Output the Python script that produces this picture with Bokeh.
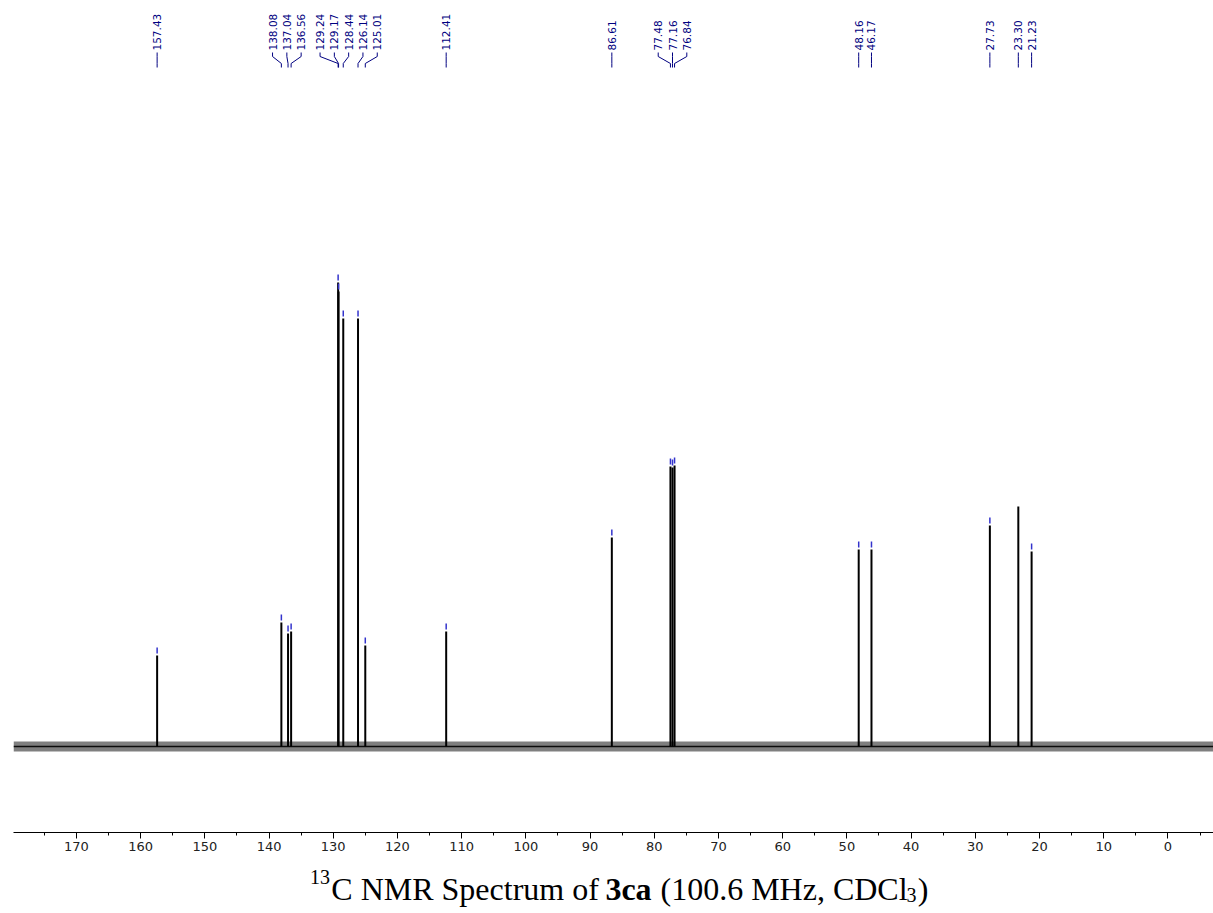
import numpy as np
from bokeh.plotting import figure
from bokeh.layouts import column
from bokeh.models import Range1d, SingleIntervalTicker, Label, ColumnDataSource, Span
from bokeh.core.properties import value
from bokeh.embed import file_html
from bokeh.resources import INLINE

# ---------------- data ----------------
shifts = [157.43, 138.08, 137.04, 136.56, 129.24, 129.17, 128.44, 126.14, 125.01,
          112.41, 86.61, 77.48, 77.16, 76.84, 48.16, 46.17, 27.73, 23.30, 21.23]
heights = [91, 124, 113, 115, 464, 455, 428, 428, 101,
           115, 209, 280, 279, 281, 197, 197, 221, 240, 195]
picked = [True] * 17 + [False, True]          # 23.30 carries no pick mark
tick_interval = 10
title_parts = [("13", "sup"), ("C NMR Spectrum of ", "normal"), ("3ca", "bold"),
               (" (100.6 MHz, CDCl", "normal"), ("3", "sub"), (")", "normal")]

# ---------------- layout ----------------
W, H = 1213, 913
TOP_H = 860
CAP_H = H - TOP_H
LEFT = 13
X0, X1 = 179.8, -7.1
Y0, Y1 = -86, 746
FW = W - LEFT
px_per_ppm = FW / (X0 - X1)

p = figure(width=W, height=TOP_H, output_backend="svg", toolbar_location=None,
           x_range=Range1d(X0, X1), y_range=Range1d(Y0, Y1),
           min_border_left=LEFT, min_border_right=0, min_border_top=0,
           min_border_bottom=TOP_H - 832)
p.yaxis.visible = False
p.xgrid.visible = False
p.ygrid.visible = False
p.outline_line_color = None
p.background_fill_color = "white"
p.border_fill_color = "white"

ax = p.xaxis[0]
ax.ticker = SingleIntervalTicker(interval=tick_interval, num_minor_ticks=2)
ax.major_tick_out = 6
ax.major_tick_in = 0
ax.minor_tick_out = 3
ax.minor_tick_in = 0
ax.axis_line_color = "black"
ax.major_tick_line_color = "black"
ax.minor_tick_line_color = "black"
ax.major_label_text_font = "DejaVu Sans"
ax.major_label_text_font_size = "13px"
ax.major_label_text_color = "#222222"
ax.major_label_standoff = 3

# noisy baseline rendered as a band
p.add_layout(Span(location=0, dimension="width", line_color="black",
                  line_alpha=0.5, line_width=10))
p.add_layout(Span(location=0, dimension="width", line_color="black",
                  line_alpha=0.9, line_width=1.5))

# peaks
src = ColumnDataSource(dict(x=shifts, h=heights, zero=[0] * len(shifts)))
p.segment(x0="x", y0="zero", x1="x", y1="h", source=src,
          line_color="black", line_width=2)

# pick marks
mk = [i for i, f in enumerate(picked) if f]
msrc = ColumnDataSource(dict(x=[shifts[i] for i in mk],
                             y0=[heights[i] + 2 for i in mk],
                             y1=[heights[i] + 8 for i in mk]))
p.segment(x0="x", y0="y0", x1="x", y1="y1", source=msrc,
          line_color="#3333cc", line_width=1.5)

# ---------------- peak labels spread ----------------
SP, MIN_GAP = 14.3, 12.5
sx = [(X0 - s) * px_per_ppm for s in shifts]
order = sorted(range(len(shifts)), key=lambda i: sx[i])
groups = [[i] for i in order]


def place(g):
    c = np.mean([sx[i] for i in g])
    n = len(g)
    if n == 1:
        return [c]
    return [c + (k - (n - 1) / 2) * SP for k in range(n)]


changed = True
while changed:
    changed = False
    pos = [place(g) for g in groups]
    for k in range(len(groups) - 1):
        if pos[k + 1][0] - pos[k][-1] < MIN_GAP:
            groups[k] = groups[k] + groups[k + 1]
            del groups[k + 1]
            changed = True
            break

lab_px = {}
for g in groups:
    for i, lp in zip(g, place(g)):
        lab_px[i] = lp
lab_x = [X0 - lab_px[i] / px_per_ppm for i in range(len(shifts))]


def ydat(pix):
    return Y1 - pix


xs, ys = [], []
for i, s in enumerate(shifts):
    xs.append([lab_x[i], lab_x[i], s, s])
    ys.append([ydat(52), ydat(56), ydat(63), ydat(67)])
p.multi_line(xs=xs, ys=ys, line_color="#000080", line_width=1)

tsrc = ColumnDataSource(dict(x=lab_x, y=[ydat(50)] * len(shifts),
                             t=["%.2f" % s for s in shifts]))
p.text(x="x", y="y", text="t", source=tsrc, angle=np.pi / 2,
       text_align="left", text_baseline="middle",
       text_font=value("DejaVu Sans"), text_font_size="10.5px",
       text_color="#000080")

# ---------------- caption (own strip below the axis) ----------------
cap = figure(width=W, height=CAP_H, output_backend="svg", toolbar_location=None,
             x_range=Range1d(0, W), y_range=Range1d(0, CAP_H),
             min_border=0, x_axis_type=None, y_axis_type=None)
cap.xgrid.visible = False
cap.ygrid.visible = False
cap.outline_line_color = None
cap.background_fill_color = "white"
cap.border_fill_color = "white"

reg = {' ': 250, '(': 333, ')': 333, '.': 250, ',': 250, 'C': 667, 'N': 722, 'M': 889,
       'R': 667, 'S': 556, 'H': 722, 'D': 722, 'l': 278, 'p': 500, 'e': 444, 'c': 444,
       't': 278, 'r': 333, 'u': 500, 'm': 778, 'o': 500, 'f': 333, 'z': 444, 'a': 444}
bold = {'c': 444, 'a': 500}
FS = 32
SFS = 20
GAP = 1.5


def width(t, size, b=False):
    tot = 0
    for ch in t:
        if ch.isdigit():
            tot += 500
        elif b:
            tot += bold.get(ch, reg.get(ch, 500))
        else:
            tot += reg.get(ch, 500)
    return tot * size / 1000.0


def psize(kind):
    return SFS if kind in ("sup", "sub") else FS


total = sum(width(t, psize(k), k == "bold") + GAP for t, k in title_parts)
cx = LEFT + FW / 2 - total / 2
base_y = CAP_H - (888 - TOP_H)
for t, k in title_parts:
    sz = psize(k)
    b = k == "bold"
    lead = len(t) - len(t.lstrip(" "))
    body = t.strip(" ")
    x_start = cx + width(" " * lead, sz)
    dy = 12 if k == "sup" else (-6 if k == "sub" else 0)
    cap.add_layout(Label(x=x_start, y=base_y + dy, text=body,
                         text_font="Liberation Serif", text_font_size="%dpx" % sz,
                         text_font_style="bold" if b else "normal",
                         text_align="left", text_baseline="alphabetic",
                         text_color="black"))
    cx += width(t, sz, b) + GAP

layout = column(p, cap, spacing=0)
open("out.html", "w").write(file_html(layout, INLINE))
